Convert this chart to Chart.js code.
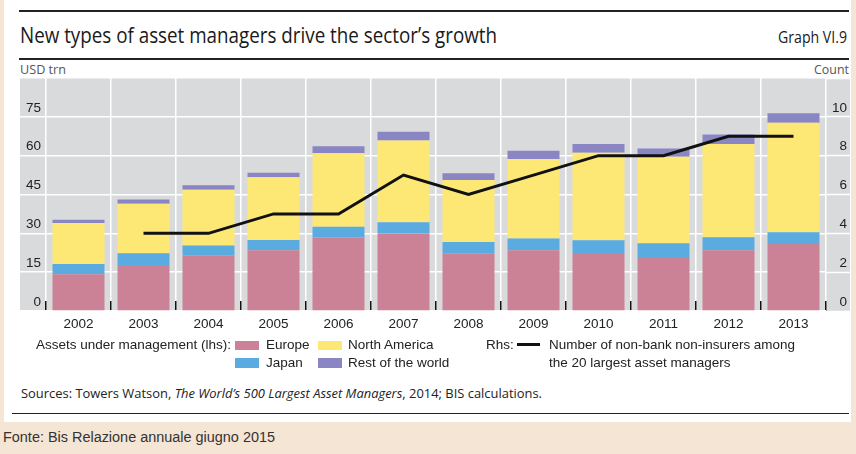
<!DOCTYPE html>
<html><head><meta charset="utf-8">
<script src="https://cdn.jsdelivr.net/npm/chart.js@4"></script>
<style>
html,body{margin:0;padding:0;}
body{width:856px;height:454px;background:#f5e5d4;position:relative;overflow:hidden;font-family:'Liberation Sans',Arial,sans-serif;color:#222;}
#panel{position:absolute;left:4px;top:0;width:847px;height:422px;background:#fff;}
.rule{position:absolute;height:1.5px;background:#222;}
.t{position:absolute;white-space:nowrap;line-height:1;transform-origin:0 0;}
.os{font-family:'Open Sans',sans-serif;}
.lg{font-size:13.5px;color:#222;}
.sw{position:absolute;width:24px;height:9.5px;}
#cv{position:absolute;left:20px;top:60px;}
</style>
</head><body>
<div id="panel"></div>
<div class="rule" style="left:19px;top:10px;width:830px;"></div>
<div class="rule" style="left:19px;top:58px;width:830px;"></div>
<div class="rule" style="left:12px;top:412.5px;width:837px;"></div>

<div class="t os" id="title" style="left:20px;top:24.3px;font-size:21.4px;color:#1a1a1a;" data-w="477">New types of asset managers drive the sector’s growth</div>
<div class="t os" id="graph" style="left:778px;top:28.8px;font-size:16.3px;color:#1a1a1a;" data-w="69">Graph VI.9</div>
<div class="t os" style="left:20px;top:63.8px;font-size:12px;color:#555;" data-w="46">USD trn</div>
<div class="t os" style="left:814px;top:63.8px;font-size:12px;color:#555;" data-w="35">Count</div>

<canvas id="cv" width="830" height="280" style="width:830px;height:280px;"></canvas>

<div class="t lg" style="left:36px;top:338.4px;" data-w="195">Assets under management (lhs):</div>
<div class="sw" style="left:235px;top:340.5px;background:#cc8296;"></div>
<div class="t lg" style="left:266px;top:338.4px;">Europe</div>
<div class="sw" style="left:235px;top:358px;background:#5aace0;"></div>
<div class="t lg" style="left:266px;top:356.1px;">Japan</div>
<div class="sw" style="left:318px;top:340.5px;background:#fde876;"></div>
<div class="t lg" style="left:348px;top:338.4px;">North America</div>
<div class="sw" style="left:318px;top:358px;background:#8a86c4;"></div>
<div class="t lg" style="left:348px;top:356.1px;">Rest of the world</div>
<div class="t lg" style="left:486px;top:338.4px;">Rhs:</div>
<div style="position:absolute;left:517px;top:343px;width:23px;height:3px;background:#111;"></div>
<div class="t lg" style="left:549px;top:338.4px;" data-w="246">Number of non-bank non-insurers among</div>
<div class="t lg" style="left:549px;top:356.1px;">the 20 largest asset managers</div>

<div class="t os" style="left:20.7px;top:387.9px;font-size:12.5px;color:#222;" data-w="521">Sources: Towers Watson, <i>The World’s 500 Largest Asset Managers</i>, 2014; BIS calculations.</div>
<div class="t" style="left:3px;top:429.8px;font-size:14px;color:#333;" data-w="272">Fonte: Bis Relazione annuale giugno 2015</div>

<script>
const years = ['2002','2003','2004','2005','2006','2007','2008','2009','2010','2011','2012','2013'];
const europe = [14.2, 17.8, 21.3, 23.5, 28.4, 29.9, 22.3, 23.5, 22.4, 20.9, 23.5, 25.9];
const japan  = [4.0, 4.5, 4.0, 3.9, 4.1, 4.4, 4.4, 4.5, 4.9, 5.3, 5.0, 4.5];
const northAmerica = [15.8, 19.1, 21.5, 24.3, 28.4, 31.6, 23.9, 30.7, 33.8, 33.4, 36.0, 42.3];
const restOfWorld  = [1.2, 1.7, 1.8, 1.7, 2.7, 3.3, 2.6, 3.2, 3.4, 3.2, 3.7, 3.7];
const nonBankCount = [null, 4, 4, 5, 5, 7, 6, 7, 8, 8, 9, 9];
const lhsTicks = [0, 15, 30, 45, 60, 75];
const rhsTicks = [0, 2, 4, 6, 8, 10];

const FONT = {family:"'Liberation Sans', Arial, sans-serif", size:13.5};

const bgPlugin = {
  id:'bg',
  beforeDraw(c){
    const a = c.chartArea, ctx = c.ctx;
    ctx.save();
    ctx.fillStyle = '#d9dadc';
    ctx.fillRect(0, a.top, c.width, a.bottom - a.top);
    ctx.restore();
  }
};

const barDs = (label, data, color) => ({
  type:'bar', label, data, backgroundColor:color, borderWidth:0,
  yAxisID:'y', order:1, barPercentage:0.8, categoryPercentage:1.0
});

new Chart(document.getElementById('cv'), {
  data:{
    labels: years,
    datasets:[
      {type:'line', label:'Number of non-bank non-insurers among the 20 largest asset managers',
       data: nonBankCount, yAxisID:'y1', borderColor:'#111', borderWidth:3, pointRadius:0,
       tension:0, fill:false, order:0, borderCapStyle:'butt', borderJoinStyle:'miter'},
      barDs('Europe', europe, '#cc8296'),
      barDs('Japan', japan, '#5aace0'),
      barDs('North America', northAmerica, '#fde876'),
      barDs('Rest of the world', restOfWorld, '#8a86c4')
    ]
  },
  options:{
    responsive:false, animation:false,
    layout:{padding:{top:18, right:3, left:0, bottom:0}},
    plugins:{legend:{display:false}, tooltip:{enabled:false}},
    scales:{
      x:{
        stacked:true, offset:true,
        grid:{display:true, offset:true, color:'#ffffff', lineWidth:1.5,
              drawTicks:true, tickLength:-10, tickColor:'#111', tickWidth:1.5},
        border:{display:false},
        ticks:{padding:15, color:'#222', font:FONT, maxRotation:0, autoSkip:false},
        afterFit(s){ s.height = 29; }
      },
      y:{
        stacked:true, position:'left', min:0, max:90,
        afterBuildTicks(s){ s.ticks = lhsTicks.concat([90]).map(v=>({value:v})); },
        grid:{color:'#ffffff', lineWidth:1.5, drawTicks:true, tickLength:26, tickColor:'#ffffff', tickWidth:1.5},
        border:{display:false},
        ticks:{padding:-21, labelOffset:-9, color:'#222', font:FONT,
               callback:v => lhsTicks.includes(v) ? String(v) : ''},
        afterFit(s){ s.width = 26; }
      },
      y1:{
        position:'right', min:0, max:12,
        afterBuildTicks(s){ s.ticks = rhsTicks.concat([12]).map(v=>({value:v})); },
        grid:{drawOnChartArea:false, drawTicks:true, tickLength:24, tickColor:'#ffffff', tickWidth:1.5},
        border:{display:false},
        ticks:{crossAlign:'far', labelOffset:-9, color:'#222', font:FONT,
               callback:v => rhsTicks.includes(v) ? String(v) : ''},
        afterFit(s){ s.width = 21; }
      }
    }
  },
  plugins:[bgPlugin]
});

function fitTexts(){
  document.querySelectorAll('[data-w]').forEach(el=>{
    el.style.transform='none';
    const w = el.getBoundingClientRect().width;
    const target = parseFloat(el.dataset.w);
    if (w>0) el.style.transform = 'scaleX(' + (target/w) + ')';
  });
}
if (document.fonts && document.fonts.ready) document.fonts.ready.then(fitTexts); else fitTexts();
fitTexts();
</script>
</body></html>
